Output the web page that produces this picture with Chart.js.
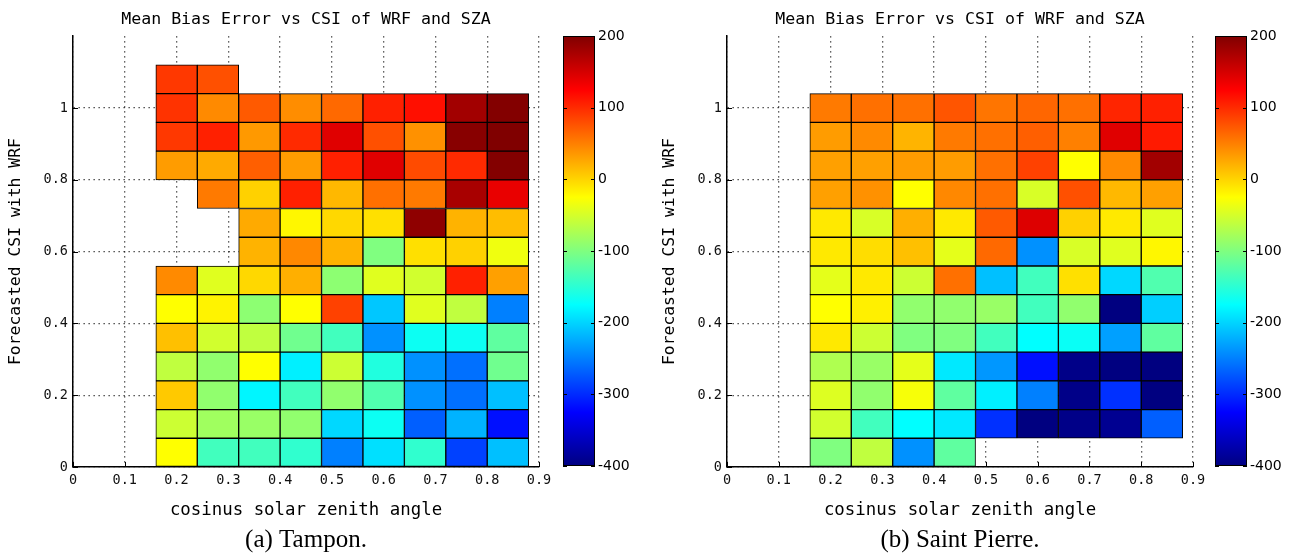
<!DOCTYPE html>
<html>
<head>
<meta charset="utf-8">
<script src="https://cdn.jsdelivr.net/npm/chart.js"></script>
<style>
  body { margin: 0; width: 1290px; height: 559px; overflow: hidden; background: #fff; position: relative; }
  canvas { position: absolute; top: 0; }
</style>
</head>
<body>
<canvas id="mapA" width="560" height="559" style="left:0px"></canvas>
<canvas id="barA" width="80" height="559" style="left:560px"></canvas>
<canvas id="mapB" width="560" height="559" style="left:654px"></canvas>
<canvas id="barB" width="80" height="559" style="left:1212px"></canvas>
<script>
// bin centres (cosinus SZA on x, forecasted CSI on y), bins are 0.08 wide
const colX = [0.2, 0.28, 0.36, 0.44, 0.52, 0.6, 0.68, 0.76, 0.84];
const tamponRows = [1.08, 1.0, 0.92, 0.84, 0.76, 0.68, 0.6, 0.52, 0.44, 0.36, 0.28, 0.2, 0.12, 0.04];
const stPierreRows = [1.0, 0.92, 0.84, 0.76, 0.68, 0.6, 0.52, 0.44, 0.36, 0.28, 0.2, 0.12, 0.04];
const BIN = 0.08;

// mean bias error (W/m2) per bin, rows top to bottom, null = no data
const tamponMBE = [
  [  92,   78, null, null, null, null, null, null, null],
  [  95,   44,   72,   42,   63,  106,  116,  180,  198],
  [  92,  106,   35,  100,  143,   78,   40,  195,  200],
  [  33,   25,   69,   33,  106,  143,   81,  100,  198],
  [null,   53,    2,  106,   17,   59,   53,  176,  138],
  [null, null,   25,  -20,   -2,   -7,  191,   20,   14],
  [null, null,   20,   45,   20, -100,   -7,    2,  -34],
  [  44,  -43,   -2,   22,  -92,  -43,  -52,  106,   31],
  [ -25,  -18,  -92,  -25,   87, -208,  -43,  -62, -250],
  [  12,  -52,  -62, -109, -137, -240, -168, -168, -119],
  [ -62,  -90,  -25, -184,  -55, -156, -240, -259, -109],
  [   7,  -90, -180, -137,  -90, -128, -240, -259, -212],
  [ -55,  -81,  -85,  -90, -198, -168, -269, -220, -316],
  [ -25, -137, -137, -147, -250, -193, -147, -287, -212]
];
const stPierreMBE = [
  [  53,   59,   59,   75,   56,   65,   59,  103,  106],
  [  33,   44,   19,   53,   59,   69,   50,  143,  110],
  [  31,   31,   33,   33,   59,   87,  -25,   44,  180],
  [  31,   40,  -25,   45,   59,  -48,   78,   17,   31],
  [ -12,  -48,   22,  -12,   72,  145,    2,  -12,  -43],
  [ -12,   -5,   12,  -40,   63, -240,  -48,  -43,  -20],
  [ -40,  -12,  -55,   59, -212, -137,   -7, -198, -128],
  [ -25,  -16,  -90,  -90,  -85, -137,  -90, -400, -203],
  [ -12,  -55, -100, -100, -137, -175, -170, -231, -119],
  [ -72,  -85,  -40, -188, -236, -316, -395, -400, -400],
  [ -45,  -90,  -30, -119, -184, -250, -395, -297, -400],
  [ -52, -137, -175, -188, -297, -400, -395, -390, -269],
  [-100,  -62, -240, -119, null, null, null, null, null]
];

const xTicks = [0, 0.1, 0.2, 0.3, 0.4, 0.5, 0.6, 0.7, 0.8, 0.9];
const yTicks = [0, 0.2, 0.4, 0.6, 0.8, 1];
const cbTicks = [-400, -300, -200, -100, 0, 100, 200];
const cbStops = [-400, -325, -175, -25, 125, 200];   // jet breakpoints
const cbMin = -400, cbMax = 200;

const MONO = '"DejaVu Sans Mono", monospace';
const SANS = '"DejaVu Sans", sans-serif';
const SERIF = '"Liberation Serif", serif';

function jet(v) {
  const t = (v - cbMin) / (cbMax - cbMin);
  const c = x => Math.round(255 * Math.max(0, Math.min(1, x)));
  const r = c(Math.min(4 * t - 1.5, -4 * t + 4.5));
  const g = c(Math.min(4 * t - 0.5, -4 * t + 3.5));
  const b = c(Math.min(4 * t + 0.5, -4 * t + 2.5));
  return 'rgb(' + r + ',' + g + ',' + b + ')';
}

function cells(grid, rows) {
  const out = [];
  rows.forEach((yc, r) => {
    colX.forEach((xc, c) => {
      const v = grid[r][c];
      if (v !== null) out.push({x: xc, y: [yc - BIN / 2, yc + BIN / 2], v: v});
    });
  });
  return out;
}

// small inward tick marks like matlab axes
const innerTicks = {
  id: 'innerTicks',
  beforeDatasetsDraw(chart) {
    const {ctx, chartArea: a, scales: {x, y}} = chart;
    ctx.save();
    ctx.strokeStyle = '#000';
    ctx.lineWidth = 1;
    ctx.beginPath();
    x.ticks.forEach(t => {
      const px = Math.round(x.getPixelForValue(t.value)) + 0.5;
      ctx.moveTo(px, a.bottom);
      ctx.lineTo(px, a.bottom - 5);
    });
    y.ticks.forEach(t => {
      const py = Math.round(y.getPixelForValue(t.value)) + 0.5;
      ctx.moveTo(a.left, py);
      ctx.lineTo(a.left + 5, py);
    });
    ctx.stroke();
    ctx.restore();
  }
};

const colorbar = {
  id: 'colorbar',
  afterDraw(chart) {
    const {ctx, chartArea: a, scales: {y}} = chart;
    const y0 = y.getPixelForValue(cbMin), y1 = y.getPixelForValue(cbMax);
    const g = ctx.createLinearGradient(0, y0, 0, y1);
    cbStops.forEach(v => g.addColorStop((v - cbMin) / (cbMax - cbMin), jet(v)));
    ctx.save();
    ctx.fillStyle = g;
    ctx.fillRect(a.left, y1, a.width, y0 - y1);
    ctx.strokeStyle = '#000';
    ctx.lineWidth = 1;
    ctx.strokeRect(Math.round(a.left) + 0.5, Math.round(y1) + 0.5, Math.round(a.width) - 1, Math.round(y0 - y1) - 1);
    ctx.beginPath();
    cbTicks.forEach(v => {
      const py = Math.round(y.getPixelForValue(v)) + 0.5;
      ctx.moveTo(a.left, py); ctx.lineTo(a.left + 4, py);
      ctx.moveTo(a.right, py); ctx.lineTo(a.right - 4, py);
    });
    ctx.stroke();
    ctx.restore();
  }
};

function heatmap(id, data, caption) {
  return new Chart(document.getElementById(id), {
    type: 'bar',
    data: {
      datasets: [{
        data: data,
        backgroundColor: c => jet(c.raw.v),
        borderColor: '#000',
        borderWidth: 1,
        borderSkipped: false,
        categoryPercentage: 1,
        barPercentage: 1
      }]
    },
    options: {
      responsive: false,
      animation: false,
      events: [],
      layout: {padding: {left: 0, right: 21, top: 0, bottom: 0}},
      plugins: {
        legend: {display: false},
        tooltip: {enabled: false},
        title: {
          display: true, text: 'Mean Bias Error vs CSI of WRF and SZA', fullSize: false,
          color: '#000', font: {family: MONO, size: 16.6, weight: 'normal'},
          padding: {top: 10, bottom: 6.3}
        },
        subtitle: {
          display: true, text: caption, position: 'bottom', fullSize: false,
          color: '#000', font: {family: SERIF, size: 25, weight: 'normal', lineHeight: 1},
          padding: {top: 3, bottom: 6}
        }
      },
      scales: {
        x: {
          type: 'linear', min: 0, max: 0.9, offset: false,
          afterBuildTicks: s => { s.ticks = xTicks.map(v => ({value: v})); },
          afterFit: s => { s.height = 58; },
          grid: {offset: false, color: 'rgba(0,0,0,0.8)', lineWidth: 1.3, drawTicks: false},
          border: {display: true, color: '#000', width: 1.5, dash: [1.3, 3.7]},
          ticks: {color: '#111', padding: 5, font: {family: MONO, size: 13.5}, maxRotation: 0, autoSkip: false, callback: v => String(v)},
          title: {display: true, text: 'cosinus solar zenith angle', color: '#000', font: {family: MONO, size: 17.4}, padding: {top: 0, bottom: 4}}
        },
        y: {
          type: 'linear', min: 0, max: 1.2,
          afterBuildTicks: s => { s.ticks = yTicks.map(v => ({value: v})); },
          afterFit: s => { s.width = 73; },
          grid: {color: 'rgba(0,0,0,0.8)', lineWidth: 1.3, drawTicks: false},
          border: {display: true, color: '#000', width: 1.5, dash: [1.3, 3.7]},
          ticks: {color: '#111', padding: 5, font: {family: MONO, size: 13.5}, autoSkip: false, callback: v => String(v)},
          title: {display: true, text: 'Forecasted CSI with WRF', color: '#000', font: {family: MONO, size: 16.4}, padding: {top: 6, bottom: 0}}
        }
      }
    },
    plugins: [innerTicks]
  });
}

function colorbarChart(id) {
  return new Chart(document.getElementById(id), {
    type: 'scatter',
    data: {datasets: []},
    options: {
      responsive: false,
      animation: false,
      events: [],
      layout: {padding: {left: 3, right: 0, top: 36, bottom: 93}},
      plugins: {legend: {display: false}, tooltip: {enabled: false}},
      scales: {
        x: {display: false, min: 0, max: 1},
        y: {
          position: 'right', min: cbMin, max: cbMax,
          afterBuildTicks: s => { s.ticks = cbTicks.map(v => ({value: v})); },
          afterFit: s => { s.width = 45; },
          grid: {display: false, drawTicks: false},
          border: {display: false},
          ticks: {color: '#000', padding: 3, font: {family: SANS, size: 14}, callback: v => String(v)}
        }
      }
    },
    plugins: [colorbar]
  });
}

heatmap('mapA', cells(tamponMBE, tamponRows), '(a) Tampon.');
heatmap('mapB', cells(stPierreMBE, stPierreRows), '(b) Saint Pierre.');
colorbarChart('barA');
colorbarChart('barB');
</script>
</body>
</html>
